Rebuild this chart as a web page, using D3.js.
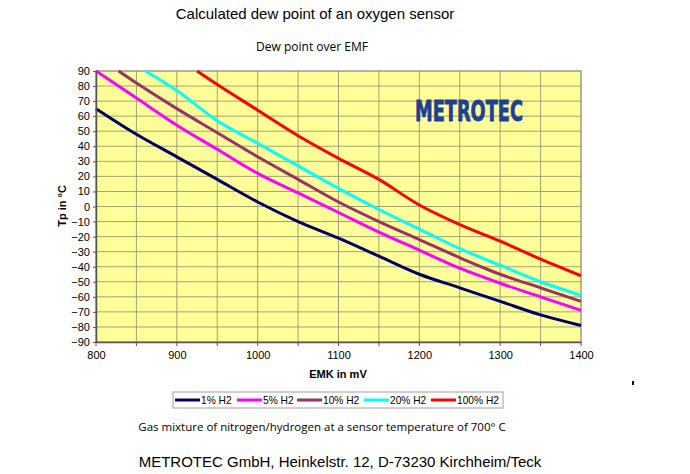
<!DOCTYPE html>
<html><head><meta charset="utf-8">
<script src="https://cdn.jsdelivr.net/npm/d3@7/dist/d3.min.js"></script>
<style>body{margin:0;background:#fff}svg{display:block}</style>
</head><body>
<script>
const xTicks = [800, 900, 1000, 1100, 1200, 1300, 1400];
const yTicks = [90,80,70,60,50,40,30,20,10,0,-10,-20,-30,-40,-50,-60,-70,-80,-90];
const seriesNames = ["1% H2", "5% H2", "10% H2", "20% H2", "100% H2"];
const seriesColors = ["#000066", "#ff00ff", "#993366", "#00ffff", "#ff0000"];
const emf1 = [800,850,900,950,1000,1050,1100,1150,1200,1250,1300,1350,1400];
const tp1  = [65,48,33,18,3,-10,-21,-33,-45,-54,-63,-72,-79];
const emf5 = [800,850,900,950,1000,1050,1100,1150,1200,1250,1300,1350,1400];
const tp5  = [90,72,54,38,22,9,-4,-17,-29,-41,-51,-60,-69];
const emf10 = [828,850,900,950,1000,1050,1100,1150,1200,1250,1300,1350,1400];
const tp10  = [90,82,65,49,33,18,3,-10,-22,-34,-45,-54,-63];
const emf20 = [861,900,950,1000,1050,1100,1150,1200,1250,1300,1350,1400];
const tp20  = [90,77,57,42,27,12,-2,-15,-28,-39,-50,-59];
const emf100 = [925,950,1000,1050,1100,1150,1200,1250,1300,1350,1400];
const tp100  = [90,81,64,47,32,18,1,-12,-23,-35,-46];

const seriesX = [emf1, emf5, emf10, emf20, emf100];
const seriesY = [tp1, tp5, tp10, tp20, tp100];

const W = 690, H = 474;
const svg = d3.select("body").append("svg").attr("width", W).attr("height", H);
const L = 96, R = 581, T = 71, B = 342;
const x = d3.scaleLinear().domain([800, 1400]).range([L, R]);
const y = d3.scaleLinear().domain([-90, 90]).range([B, T]);

svg.append("rect").attr("x", L).attr("y", T).attr("width", R - L).attr("height", B - T)
  .attr("fill", "#ffff99").attr("stroke", "#a0a0a0").attr("stroke-width", 1);

// grid
const gx = d3.range(800, 1401, 50);
svg.append("g").selectAll("line").data(gx).join("line")
  .attr("x1", d => x(d)).attr("x2", d => x(d)).attr("y1", T).attr("y2", B)
  .attr("stroke", "#8c8c6a").attr("stroke-width", 0.8);
svg.append("g").selectAll("line").data(yTicks).join("line")
  .attr("x1", L).attr("x2", R).attr("y1", d => y(d)).attr("y2", d => y(d))
  .attr("stroke", "#8c8c6a").attr("stroke-width", 0.8);

// logo
svg.append("text").attr("x", 415).attr("y", 121).attr("textLength", 108)
  .attr("lengthAdjust", "spacingAndGlyphs")
  .style("font-family", "'DejaVu Sans Condensed','Liberation Sans Narrow',sans-serif")
  .style("font-weight", "bold").style("font-size", "28px").attr("fill", "#1f3f96")
  .attr("stroke", "#1f3f96").attr("stroke-width", 0.8)
  .text("METROTEC");

// lines
const line = d3.line().x(d => x(d[0])).y(d => y(d[1])).curve(d3.curveCatmullRom.alpha(0.5));
seriesNames.forEach((n, i) => {
  const pts = seriesX[i].map((v, j) => [v, seriesY[i][j]]);
  svg.append("path").attr("d", line(pts)).attr("fill", "none")
    .attr("stroke", seriesColors[i]).attr("stroke-width", 3);
});

// axes
const xAxis = d3.axisBottom(x).tickValues(xTicks).tickFormat(d3.format("d")).tickSize(0).tickPadding(9);
const gxA = svg.append("g").attr("transform", `translate(0,${B})`).call(xAxis);
svg.append("g").attr("transform", `translate(0,${B})`)
  .selectAll("line").data(gx).join("line")
  .attr("x1", d => x(d)).attr("x2", d => x(d)).attr("y1", 0).attr("y2", 4).attr("stroke", "#555");
const yAxis = d3.axisLeft(y).tickValues(yTicks).tickSize(3).tickSizeOuter(0).tickPadding(3);
const gyA = svg.append("g").attr("transform", `translate(${L},0)`).call(yAxis);
[gxA, gyA].forEach(g => {
  g.selectAll("text").style("font-family", "Arial, 'Liberation Sans', sans-serif").style("font-size", "11px").attr("fill", "#000");
  g.select(".domain").attr("stroke", "#555").attr("stroke-width", 1.5);
  g.selectAll(".tick line").attr("stroke", "#555");
});

const arial = "Arial, 'Liberation Sans', sans-serif";
const myriad = "'Open Sans', 'Noto Sans', sans-serif";
svg.append("text").attr("x", 315).attr("y", 19).attr("text-anchor", "middle")
  .style("font-family", arial).style("font-size", "15px").text("Calculated dew point of an oxygen sensor");
svg.append("text").attr("x", 312).attr("y", 51).attr("text-anchor", "middle")
  .style("font-family", myriad).style("font-size", "12px").text("Dew point over EMF");
svg.append("text").attr("transform", `translate(66,206) rotate(-90)`).attr("text-anchor", "middle")
  .style("font-family", arial).style("font-size", "11px").style("font-weight", "bold").text("Tp in °C");
svg.append("text").attr("x", 338).attr("y", 378).attr("text-anchor", "middle")
  .style("font-family", arial).style("font-size", "11px").style("font-weight", "bold").text("EMK in mV");

// legend
const lg = svg.append("g");
lg.append("rect").attr("x", 173).attr("y", 392).attr("width", 330).attr("height", 16)
  .attr("fill", "#fff").attr("stroke", "#a0a0a0");
const legX = [175, 237, 297, 364, 431];
seriesNames.forEach((n, i) => {
  lg.append("line").attr("x1", legX[i]).attr("x2", legX[i] + 25).attr("y1", 400).attr("y2", 400)
    .attr("stroke", seriesColors[i]).attr("stroke-width", 3);
  lg.append("text").attr("x", legX[i] + 26).attr("y", 403.8)
    .style("font-family", arial).style("font-size", "10.2px").text(n);
});

svg.append("text").attr("x", 322).attr("y", 431).attr("text-anchor", "middle")
  .style("font-family", myriad).style("font-size", "11.5px").text("Gas mixture of nitrogen/hydrogen at a sensor temperature of 700° C");
svg.append("text").attr("x", 340).attr("y", 467).attr("text-anchor", "middle")
  .style("font-family", arial).style("font-size", "15px").text("METROTEC GmbH, Heinkelstr. 12, D-73230 Kirchheim/Teck");
svg.append("rect").attr("x", 632).attr("y", 381).attr("width", 2).attr("height", 4).attr("fill", "#000");
</script>
</body></html>
